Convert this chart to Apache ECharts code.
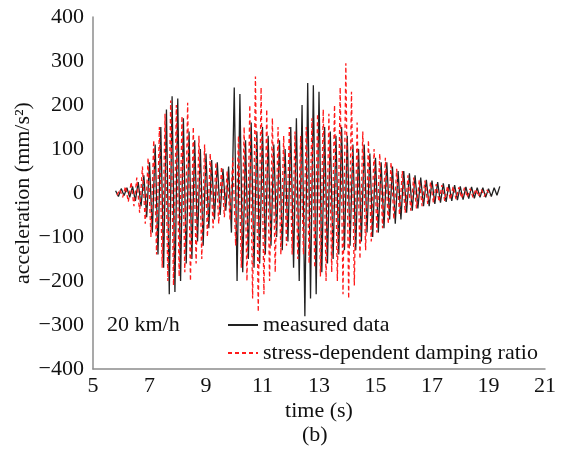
<!DOCTYPE html>
<html>
<head>
<meta charset="utf-8">
<script src="https://cdn.jsdelivr.net/npm/echarts@6/dist/echarts.min.js"></script>
<style>
  html, body { margin: 0; padding: 0; background: #fff; }
  #chart { width: 566px; height: 455px; }
</style>
</head>
<body>
<div id="chart"></div>
<script>
// Acceleration records at 20 km/h: peak/trough values sampled every 0.1 s
const measuredStart = 5.8;
const simulatedStart = 5.85;
const sampleStep = 0.1;

const measuredData = [
  5, -8, 10, -6, 12, -10, 15, -18, 25, -30,
  40, -55, 70, -90, 110, -140, 150, -170, 190, -230,
  220, -225, 215, -200, 170, -160, 140, -150, 120, -110,
  100, -120, 90, -80, 75, -60, 70, -50, 55, -40,
  60, -90, 240, -200, 225, -180, 120, -150, 160, -170,
  140, -160, 150, -140, 130, -120, 110, -100, 120, -130,
  100, -110, 150, -170, 170, -200, 200, -280, 250, -240,
  245, -230, 230, -180, 150, -160, 140, -150, 130, -140,
  150, -130, 130, -120, 110, -130, 100, -110, 110, -90,
  90, -100, 80, -90, 70, -80, 70, -60, 60, -70,
  50, -60, 50, -45, 45, -40, 40, -35, 35, -30,
  30, -30, 28, -25, 25, -22, 22, -20, 20, -18,
  18, -16, 15, -15, 14, -13, 14, -12, 12, -10,
  12, -10, 10, -8, 12, -5, 15
];

const stressDampingData = [
  -5, 8, -10, 15, -20, 25, -30, 35, -45, 60,
  -70, 80, -100, 120, -140, 150, -170, 180, -200, 210,
  -210, 200, -190, 175, -180, 205, -200, 150, -160, 130,
  -150, 110, -100, 90, -80, 70, -70, 60, -55, 50,
  -60, 80, -120, 130, -170, 150, -200, 200, -240, 265,
  -270, 240, -230, 190, -200, 170, -180, 150, -140, 130,
  -120, 150, -140, 140, -150, 130, -140, 150, -160, 170,
  -170, 180, -190, 190, -200, 180, -180, 200, -200, 240,
  -230, 295, -240, 230, -210, 160, -150, 140, -130, 120,
  -110, 100, -90, 90, -80, 80, -70, 70, -60, 55,
  -50, 50, -45, 40, -40, 35, -35, 30, -30, 28,
  -25, 25, -22, 20, -20, 18, -18, 16, -15, 15,
  -14, 13, -12, 12, -10, 10, -10, 9, -8, 8,
  -8, 7, -6
];

const xTicks = [5, 7, 9, 11, 13, 15, 17, 19, 21];
const yTicks = [-400, -300, -200, -100, 0, 100, 200, 300, 400];

const toPairs = (start, values) =>
  values.map((v, i) => [+(start + i * sampleStep).toFixed(2), v]);

const font = '"Liberation Serif", "Times New Roman", serif';
const fontSize = 22;
const axisGray = '#8c8c8c';

const chart = echarts.init(document.getElementById('chart'), null, { renderer: 'canvas' });
chart.setOption({
  animation: false,
  backgroundColor: '#fff',
  textStyle: { fontFamily: font },
  grid: { left: 93, right: 21, top: 17, bottom: 86, outerBoundsMode: 'none', containLabel: false },
  xAxis: {
    type: 'value',
    min: xTicks[0],
    max: xTicks[xTicks.length - 1],
    interval: 2,
    name: 'time (s)',
    nameLocation: 'middle',
    nameGap: 31,
    nameMoveOverlap: false,
    nameTextStyle: { fontFamily: font, fontSize: fontSize, color: '#111' },
    axisLine: { show: true, onZero: false, lineStyle: { color: axisGray, width: 1.5 } },
    axisTick: { show: false },
    splitLine: { show: false },
    axisLabel: { fontFamily: font, fontSize: fontSize, color: '#111', margin: 6 }
  },
  yAxis: {
    type: 'value',
    min: yTicks[0],
    max: yTicks[yTicks.length - 1],
    interval: 100,
    name: 'acceleration (mm/s²)',
    nameLocation: 'middle',
    nameGap: 59,
    nameMoveOverlap: false,
    nameTextStyle: { fontFamily: font, fontSize: fontSize, color: '#111' },
    axisLine: { show: true, onZero: false, lineStyle: { color: axisGray, width: 1.5 } },
    axisTick: { show: false },
    splitLine: { show: false },
    axisLabel: {
      fontFamily: font, fontSize: fontSize, color: '#111', margin: 9,
      formatter: v => String(v).replace('-', '\u2212')
    }
  },
  legend: {
    orient: 'vertical',
    left: 227,
    top: 314,
    itemWidth: 30,
    itemHeight: 12,
    itemGap: 6,
    padding: 0,
    itemStyle: { opacity: 0 },
    textStyle: { fontFamily: font, fontSize: fontSize, color: '#111' },
    data: ['measured data', 'stress-dependent damping ratio']
  },
  graphic: [
    { type: 'text', left: 107, top: 314,
      style: { text: '20 km/h', font: fontSize + 'px ' + font, fill: '#111' } },
    { type: 'text', left: 302, top: 424,
      style: { text: '(b)', font: fontSize + 'px ' + font, fill: '#111' } }
  ],
  series: [
    {
      name: 'measured data',
      type: 'line',
      data: toPairs(measuredStart, measuredData),
      symbol: 'none',
      lineStyle: { color: '#222', width: 1.3 },
      itemStyle: { color: '#222' },
      z: 2
    },
    {
      name: 'stress-dependent damping ratio',
      type: 'line',
      data: toPairs(simulatedStart, stressDampingData),
      symbol: 'none',
      lineStyle: { color: '#ff1a1a', width: 1.3, type: [4, 3] },
      itemStyle: { color: '#ff1a1a' },
      z: 3
    }
  ]
});
</script>
</body>
</html>
